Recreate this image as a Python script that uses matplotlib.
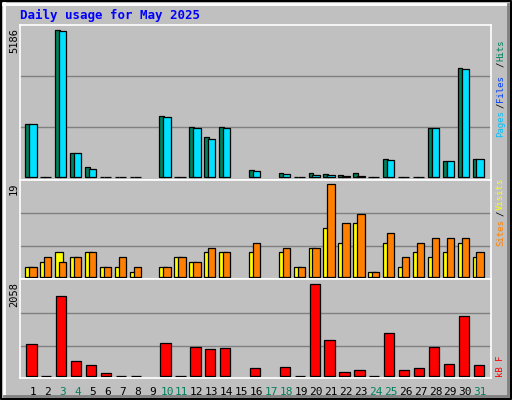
import matplotlib
matplotlib.use("Agg")
import matplotlib.pyplot as plt
from matplotlib.lines import Line2D

days = list(range(1, 32))
weekend = [3, 4, 10, 11, 17, 18, 24, 25, 31]
N = None
hits  = [1877,0,5186,856,364,0,0,0,N,2159,0,1772,1420,1772,N,258,N,153,0,153,117,82,153,0,645,0,0,1737,575,3849,645]
files = [1877,0,5150,856,293,0,0,0,N,2124,0,1737,1349,1737,N,223,N,117,0,82,82,35,35,0,610,0,0,1737,575,3813,645]
sites = [2,3,5,4,5,2,2,1,N,2,4,3,5,5,N,5,N,5,2,6,10,7,11,1,7,2,5,4,5,7,4]
visits= [2,4,3,4,5,2,4,2,N,2,4,3,6,5,N,7,N,6,2,6,19,11,13,1,9,4,7,8,8,8,5]
kbytes= [706,0,1788,323,233,53,0,0,N,729,0,638,593,616,N,165,N,188,0,2058,796,75,120,0,954,120,165,638,255,1337,233]

W, H = 512, 400
fig = plt.figure(figsize=(W/100, H/100), dpi=100, facecolor="#C0C0C0")
mono = "DejaVu Sans Mono"

def ax_at(top, bottom):
    return fig.add_axes([20/W, 1-bottom/H, (491-20)/W, (bottom-top)/H])

x0 = 1 - 13/15.07
x1 = 31 + 11/15.07

def style(ax, ymin, ymax, grids):
    ax.set_facecolor("#C0C0C0")
    ax.set_xlim(x0, x1); ax.set_ylim(ymin, ymax)
    for g in grids:
        ax.axhline(g, color="#808080", lw=1, zorder=0)
    ax.set_xticks([]); ax.set_yticks([])
    for s in ax.spines.values():
        s.set_color("white"); s.set_linewidth(1.2)

def bars(ax, vals, l, r, color):
    for d, v in zip(days, vals):
        if v is None: continue
        ax.bar(d + l, v, width=r-l, align="edge", color=color, edgecolor="black", lw=0.9, zorder=2)

a1 = ax_at(24.7, 180)
style(a1, -106, 5361, [3555, 1760])
bars(a1, hits, -0.51, -0.2, "#00805C")
bars(a1, files, -0.245, 0.245, "#00E0FF")

a2 = ax_at(180, 279.3)
style(a2, -0.535, 19.9, [13.05, 6.26])
bars(a2, sites, -0.51, 0.0, "#FFFF00")
bars(a2, visits, -0.245, 0.245, "#FF8000")

a3 = ax_at(279.3, 378)
style(a3, -52, 2172, [1406, 662])
bars(a3, kbytes, -0.44, 0.245, "#FF0000")

for d in days:
    a3.text(d, -0.09, str(d), transform=a3.get_xaxis_transform(), ha="center", va="top",
            fontsize=8, family=mono, color="#00805C" if d in weekend else "black")

def t(x, y, s, c, fs=7.5, **kw):
    fig.text(x/W, 1-y/H, s, color=c, fontsize=fs, family=mono, rotation=90, **kw)

t(9, 28, "5186", "black", ha="left", va="top")
t(9, 182, "19", "black", ha="left", va="top")
t(9, 282, "2058", "black", ha="left", va="top")

def stack(x, ybot, parts):
    y = ybot
    for s, c, ln_ in parts:
        fig.text(x/W, 1-y/H, s, color=c, fontsize=6.5, family=mono, rotation=90, ha="left", va="bottom")
        y -= ln_
stack(496, 137, [("Pages", "#00C0FF", 29), ("/", "#000000", 6), ("Files", "#0040FF", 35), ("/", "#000000", 6), ("Hits", "#00805C", 30)])
stack(496, 246, [("Sites", "#FF8000", 30), ("/", "#000000", 6), ("Visits", "#FFFF00", 36)])
stack(496, 377, [("kB F", "#FF0000", 30)])

fig.text(20/W, 1-15/H, "Daily usage for May 2025", color="#0000FF", fontsize=9,
         family=mono, weight="bold", ha="left", va="center")

def ln(xs, ys, c, lw=1.5):
    fig.add_artist(Line2D([x/W for x in xs], [1-y/H for y in ys], color=c, lw=lw))
ln([1, 511, 511, 1, 1], [1, 1, 399, 399, 1], "black", 1.5)
ln([3, 508], [3.5, 3.5], "white", 2)
ln([3.5, 3.5], [3, 396], "white", 2)
ln([4, 508], [395.5, 395.5], "#808080", 2)
ln([507.5, 507.5], [4, 396], "#808080", 2)

fig.savefig("out.png", dpi=100, facecolor=fig.get_facecolor())
